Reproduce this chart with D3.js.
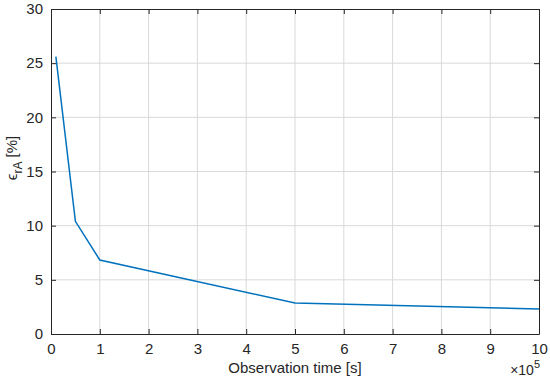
<!DOCTYPE html>
<html>
<head>
<meta charset="utf-8">
<script src="https://cdn.jsdelivr.net/npm/d3@7"></script>
<style>
  body { margin: 0; background: #fff; }
  text { font-family: "Liberation Sans", Arial, sans-serif; fill: #262626; }
</style>
</head>
<body>
<svg id="chart"></svg>
<script>
// data (x in units of 1e5 s)
var obsTime = [0.1, 0.5, 1, 5, 10];
var errRA = [25.6, 10.4, 6.83, 2.86, 2.31];
var xTicks = [0, 1, 2, 3, 4, 5, 6, 7, 8, 9, 10];
var yTicks = [0, 5, 10, 15, 20, 25, 30];

var width = 550, height = 381;
var margin = {left: 51, right: 11, top: 9, bottom: 47};
var AxisColor = '#262626', GridColor = '#d9d9d9', LineColor = '#0072BD';

var svg = d3.select('#chart')
    .attr('width', width)
    .attr('height', height);

var x = d3.scaleLinear().domain([0, 10]).range([margin.left, width - margin.right]);
var y = d3.scaleLinear().domain([0, 30]).range([height - margin.bottom, margin.top]);

// grid
svg.append('g').selectAll('line').data(xTicks.slice(1, -1)).enter().append('line')
    .attr('x1', function(d) { return x(d); }).attr('x2', function(d) { return x(d); })
    .attr('y1', y(0)).attr('y2', y(30))
    .attr('stroke', GridColor).attr('stroke-width', 1);
svg.append('g').selectAll('line').data(yTicks.slice(1, -1)).enter().append('line')
    .attr('x1', x(0)).attr('x2', x(10))
    .attr('y1', function(d) { return y(d); }).attr('y2', function(d) { return y(d); })
    .attr('stroke', GridColor).attr('stroke-width', 1);

// axes with inner ticks
function styleAxis(g) {
  g.select('.domain').attr('stroke', AxisColor);
  g.selectAll('.tick line').attr('stroke', AxisColor);
  g.selectAll('.tick text').attr('fill', AxisColor).style('font-size', '15px')
    .style('font-family', '"Liberation Sans", Arial, sans-serif');
}
svg.append('g')
    .attr('transform', 'translate(0,' + y(0) + ')')
    .call(d3.axisBottom(x).tickValues(xTicks).tickSize(-5).tickPadding(9).tickSizeOuter(0))
    .call(styleAxis);
svg.append('g')
    .attr('transform', 'translate(' + x(0) + ',0)')
    .call(d3.axisLeft(y).tickValues(yTicks).tickSize(-5).tickPadding(8).tickSizeOuter(0))
    .call(styleAxis);
svg.append('g')
    .attr('transform', 'translate(0,' + y(30) + ')')
    .call(d3.axisTop(x).tickValues(xTicks).tickSize(-5).tickFormat('').tickSizeOuter(0))
    .call(styleAxis);
svg.append('g')
    .attr('transform', 'translate(' + x(10) + ',0)')
    .call(d3.axisRight(y).tickValues(yTicks).tickSize(-5).tickFormat('').tickSizeOuter(0))
    .call(styleAxis);

// line
var line = d3.line()
    .x(function(d, i) { return x(obsTime[i]); })
    .y(function(d) { return y(d); });
svg.append('path')
    .datum(errRA)
    .attr('d', line)
    .attr('fill', 'none')
    .attr('stroke', LineColor)
    .attr('stroke-width', 1.5);

// labels
svg.append('text')
    .attr('x', (x(0) + x(10)) / 2)
    .attr('y', 373)
    .attr('text-anchor', 'middle')
    .style('font-size', '15px')
    .text('Observation time [s]');

var yl = svg.append('text')
    .attr('transform', 'translate(17,158) rotate(-90)')
    .attr('text-anchor', 'middle')
    .style('font-size', '15px');
yl.append('tspan').text('\u03F5');
yl.append('tspan').attr('dy', 5).style('font-size', '12px').text('rA');
yl.append('tspan').attr('dy', -5).text(' [%]');

var ex = svg.append('text')
    .attr('x', 540)
    .attr('y', 375)
    .attr('text-anchor', 'end')
    .style('font-size', '14px');
ex.append('tspan').text('\u00D710');
ex.append('tspan').attr('dy', -7).style('font-size', '11px').text('5');
</script>
</body>
</html>
